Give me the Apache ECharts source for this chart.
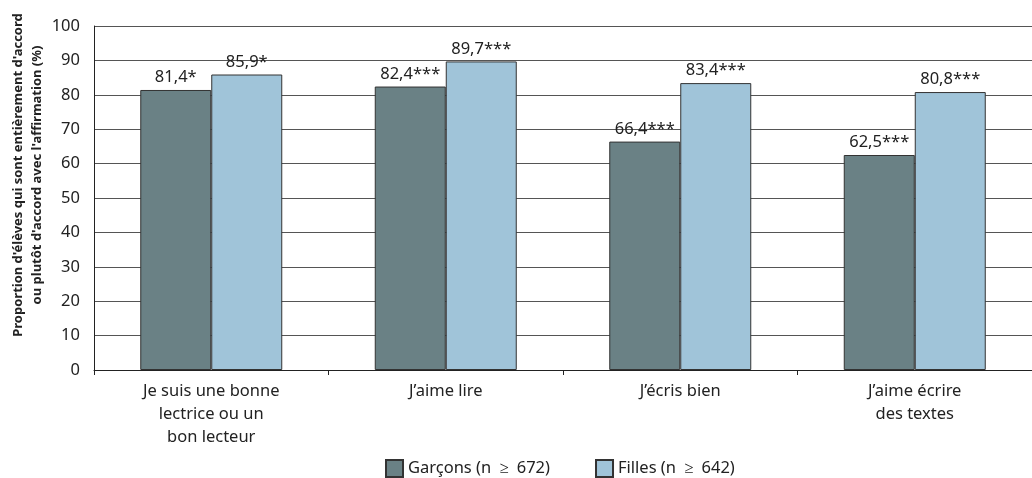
<!DOCTYPE html>
<html><head><meta charset="utf-8">
<script src="https://cdn.jsdelivr.net/npm/echarts@6/dist/echarts.min.js"></script>
<style>html,body{margin:0;padding:0;background:#fff}#c{width:1032px;height:478px}</style>
</head><body><div id="c"></div>
<script>
const categories = ["Je suis une bonne\nlectrice ou un\nbon lecteur", "J’aime lire", "J’écris bien", "J’aime écrire\ndes textes"];
const garcons = [81.4, 82.4, 66.4, 62.5];
const filles = [85.9, 89.7, 83.4, 80.8];
const garconsSig = ["*", "***", "***", "***"];
const fillesSig = ["*", "***", "***", "***"];
const seriesNames = ["Garçons (n\u2002\u2265\u2002672)", "Filles (n\u2002\u2265\u2002642)"];
const yTicks = [0, 10, 20, 30, 40, 50, 60, 70, 80, 90, 100];
const yTitle = "Proportion d'élèves qui sont entièrement d'accord\nou plutôt d'accord avec l'affirmation (%)";

const font = "Noto Sans";
function fmt(v, sig) { return String(v.toFixed(1)).replace('.', ',') + sig; }
const chart = echarts.init(document.getElementById('c'));
chart.setOption({
  animation: false,
  textStyle: { fontFamily: font },
  grid: { left: 94, right: 0, top: 26, bottom: 108, outerBoundsMode: 'none', containLabel: false },
  legend: {
    top: 454, left: 380, itemWidth: 17, itemHeight: 17, itemGap: 45, icon: 'rect',
    padding: 5,
    textStyle: { fontSize: 16.5, color: '#222', fontFamily: font },
    data: seriesNames
  },
  graphic: [{
    type: 'text', x: 28, y: 175, rotation: Math.PI / 2,
    style: { text: yTitle, fontFamily: font, fontSize: 13, fontWeight: 'bold', fill: '#222',
      align: 'center', verticalAlign: 'middle', lineHeight: 19 }
  }],
  xAxis: {
    type: 'category', data: categories,
    axisLine: { lineStyle: { color: '#222', width: 1 } },
    axisTick: { show: true, length: 5, lineStyle: { color: '#222' } },
    axisLabel: { fontSize: 16.5, color: '#222', lineHeight: 23, margin: 10, interval: 0 }
  },
  yAxis: {
    type: 'value', min: 0, max: 100, interval: 10,
    axisLine: { show: true, lineStyle: { color: '#222' } },
    axisTick: { show: false },
    axisLabel: { fontSize: 16.5, color: '#222', margin: 14,
      formatter: v => yTicks.includes(v) ? String(v) : '' },
    splitLine: { lineStyle: { color: '#555', width: 1 } }
  },
  series: [
    { name: seriesNames[0], type: 'bar', barWidth: 71, barGap: '0%', data: garcons,
      itemStyle: { color: '#6a8185', borderColor: '#333', borderWidth: 1 },
      label: { show: true, position: 'top', distance: 4, fontSize: 16.5, color: '#222',
        formatter: p => fmt(p.value, garconsSig[p.dataIndex]) } },
    { name: seriesNames[1], type: 'bar', barWidth: 71, data: filles,
      itemStyle: { color: '#a0c4d9', borderColor: '#333', borderWidth: 1 },
      label: { show: true, position: 'top', distance: 4, fontSize: 16.5, color: '#222',
        formatter: p => fmt(p.value, fillesSig[p.dataIndex]) } }
  ]
});
</script></body></html>
